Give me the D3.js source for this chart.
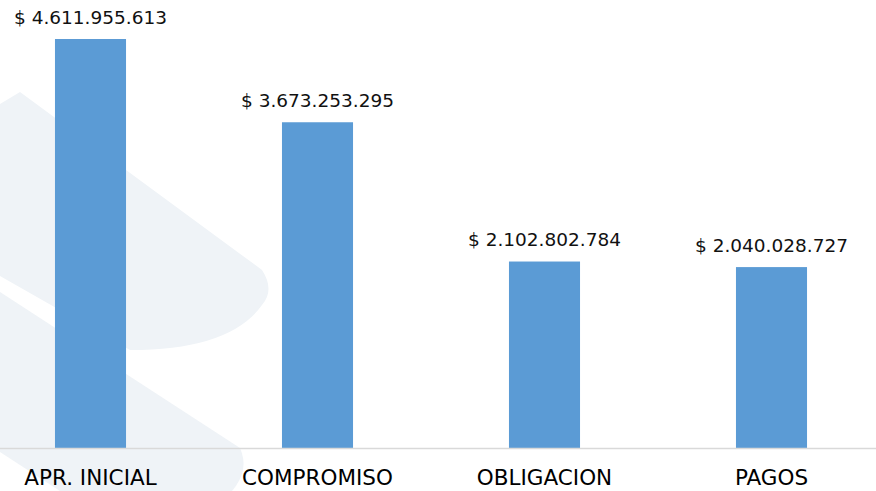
<!DOCTYPE html>
<html>
<head>
<meta charset="utf-8">
<script src="https://cdn.jsdelivr.net/npm/d3@7"></script>
<style>
  html, body { margin: 0; padding: 0; background: #fff; }
  svg { display: block; }
</style>
</head>
<body>
<svg id="chart"></svg>
<script>
const categories = ["APR. INICIAL", "COMPROMISO", "OBLIGACION", "PAGOS"];
const values = [4611955613, 3673253295, 2102802784, 2040028727];
const valueLabels = ["$ 4.611.955.613", "$ 3.673.253.295", "$ 2.102.802.784", "$ 2.040.028.727"];

const width = 876;
const height = 491;
const baseY = 448;

const svg = d3.select("#chart")
    .attr("width", width)
    .attr("height", height)
    .attr("viewBox", [0, 0, width, height]);

// faint logo watermark behind the plot
const wm = svg.append("g").attr("fill", "#eff3f7");
wm.append("path")
    .attr("d", "M0,104 L20,92 L262,270 Q275,290 262,305 Q230,350 130,350 L0,276 Z");
wm.append("path")
    .attr("d", "M0,292 L240,448 Q250,470 232,491 L60,491 L0,452 Z");

const x = d3.scaleBand()
    .domain(categories)
    .range([-23, 885])
    .paddingInner(0.687)
    .paddingOuter(0.3435);

const y = d3.scaleLinear()
    .domain([0, 5e9])
    .range([baseY, 4.6]);

svg.append("g")
  .selectAll("rect")
  .data(values)
  .join("rect")
    .attr("x", (d, i) => x(categories[i]))
    .attr("y", d => y(d))
    .attr("width", x.bandwidth())
    .attr("height", d => baseY - y(d))
    .attr("fill", "#5b9bd5");

// baseline axis
const xAxis = d3.axisBottom(x).tickSize(0).tickPadding(0);
const axisG = svg.append("g")
    .attr("transform", `translate(0,${baseY + 0.5})`)
    .call(xAxis);
axisG.select(".domain")
    .attr("d", `M0,0H${width}`)
    .attr("stroke", "#d9d9d9")
    .attr("stroke-width", 1.5);
axisG.selectAll(".tick text")
    .attr("y", 36.5)
    .attr("dy", 0)
    .attr("fill", "#000")
    .attr("font-family", "'DejaVu Sans', Verdana, sans-serif")
    .attr("font-size", "21.5px");

svg.append("g")
  .selectAll("text")
  .data(values)
  .join("text")
    .attr("x", (d, i) => x(categories[i]) + x.bandwidth() / 2)
    .attr("y", d => y(d) - 15.5)
    .attr("text-anchor", "middle")
    .attr("font-family", "'DejaVu Sans', Verdana, sans-serif")
    .attr("font-size", "18.5px")
    .attr("fill", "#111")
    .text((d, i) => valueLabels[i]);
</script>
</body>
</html>
